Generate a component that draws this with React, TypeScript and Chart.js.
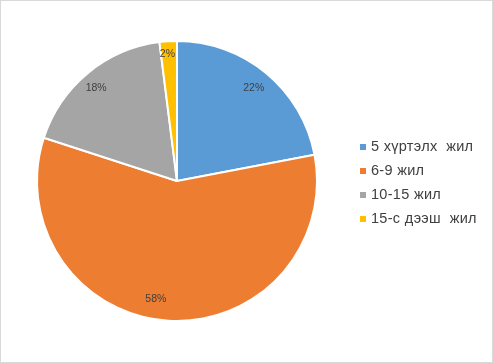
import React, { useEffect, useRef } from "react";
import { Chart, registerables } from "chart.js";

Chart.register(...registerables);

const categories = ["5 хүртэлх  жил", "6-9 жил", "10-15 жил", "15-с дээш  жил"];
const values = [22, 58, 18, 2];
const labels = ["22%", "58%", "18%", "2%"];
const colors = ["#5B9BD5", "#ED7D31", "#A5A5A5", "#FFC000"];

// label placement style: radial fraction and angular shift (degrees)
const labelRadial = [0.86, 0.855, 0.88, 0.91];
const labelShift = [0, 6.6, -1.4, -0.7];

const labelPlugin = {
  id: "sliceLabels",
  afterDatasetsDraw(chart: any) {
    const ctx = chart.ctx;
    const meta = chart.getDatasetMeta(0);
    ctx.save();
    ctx.font = "10.5px 'Liberation Sans', Arial, sans-serif";
    ctx.fillStyle = "#404040";
    ctx.textAlign = "center";
    ctx.textBaseline = "middle";
    meta.data.forEach((arc: any, i: number) => {
      const { x, y, startAngle, endAngle, outerRadius } = arc.getProps(
        ["x", "y", "startAngle", "endAngle", "outerRadius"],
        true
      );
      const mid = (startAngle + endAngle) / 2 + (labelShift[i] * Math.PI) / 180;
      const r = outerRadius * labelRadial[i];
      ctx.fillText(labels[i], x + Math.cos(mid) * r, y + Math.sin(mid) * r);
    });
    ctx.restore();
  },
};

const legendPlugin = {
  id: "customLegend",
  afterDraw(chart: any) {
    const ctx = chart.ctx;
    ctx.save();
    ctx.font = "14.5px 'Liberation Sans', Arial, sans-serif";
    try {
      (ctx as any).letterSpacing = "0.3px";
    } catch (e) {}
    ctx.textBaseline = "middle";
    ctx.textAlign = "left";
    categories.forEach((c, i) => {
      const y = 145 + i * 24;
      ctx.fillStyle = colors[i];
      ctx.fillRect(359, y - 2, 6, 6);
      ctx.fillStyle = "#404040";
      ctx.fillText(c, 370, y + 1);
    });
    ctx.restore();
  },
};

export default function App() {
  const ref = useRef<HTMLCanvasElement>(null);
  useEffect(() => {
    if (!ref.current) return;
    const chart = new Chart(ref.current, {
      type: "pie",
      data: {
        labels: categories,
        datasets: [
          {
            data: values,
            backgroundColor: colors,
            borderColor: "#ffffff",
            borderWidth: 2,
          },
        ],
      },
      options: {
        animation: false,
        responsive: false,
        layout: { padding: { left: 35, right: 174, top: 39, bottom: 40 } },
        plugins: { legend: { display: false }, tooltip: { enabled: false } },
      },
      plugins: [labelPlugin, legendPlugin],
    });
    return () => chart.destroy();
  }, []);
  return (
    <div
      style={{
        position: "fixed",
        left: 0,
        top: 0,
        width: 493,
        height: 363,
        boxSizing: "border-box",
        border: "1px solid #D9D9D9",
        background: "#fff",
      }}
    >
      <canvas ref={ref} width={491} height={361} style={{ display: "block" }} />
    </div>
  );
}
